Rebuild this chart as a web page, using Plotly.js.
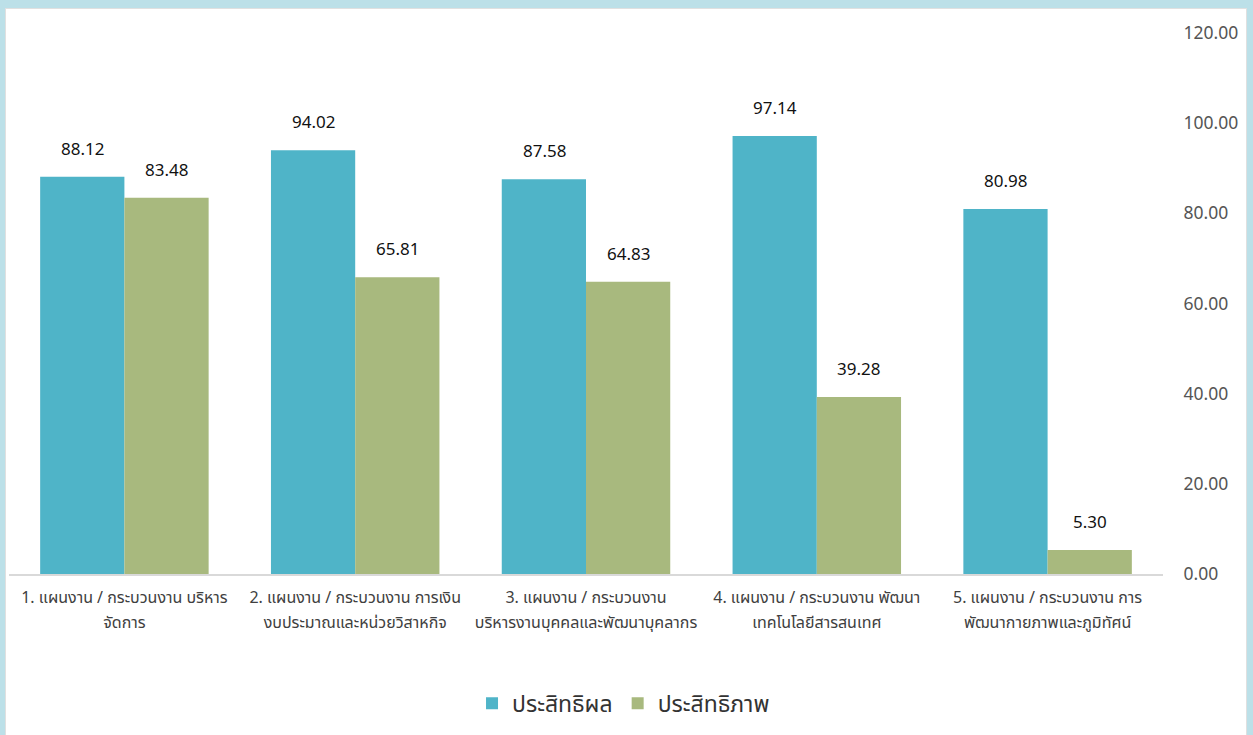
<!DOCTYPE html>
<html>
<head>
<meta charset="utf-8">
<script src="https://cdn.plot.ly/plotly-3.0.1.min.js"></script>
<style>
  html, body { margin:0; padding:0; width:1253px; height:735px; background:#BCE0E8; overflow:hidden; }
  #frame { position:absolute; left:5px; top:8px; width:1240px; height:727px; background:#fff; border:1px solid #e0e0e0; border-bottom:none; }
  #chart { position:absolute; left:0; top:0; width:1240px; height:727px; }
</style>
</head>
<body>
<div id="frame"><div id="chart"></div></div>
<script>
const categories = [
  "1. แผนงาน / กระบวนงาน บริหาร<br>จัดการ",
  "2. แผนงาน / กระบวนงาน การเงิน<br>งบประมาณและหน่วยวิสาหกิจ",
  "3. แผนงาน / กระบวนงาน<br>บริหารงานบุคคลและพัฒนาบุคลากร",
  "4. แผนงาน / กระบวนงาน พัฒนา<br>เทคโนโลยีสารสนเทศ",
  "5. แผนงาน / กระบวนงาน การ<br>พัฒนากายภาพและภูมิทัศน์"
];
const seriesNames = ["ประสิทธิผล", "ประสิทธิภาพ"];
const effectiveness = [88.12, 94.02, 87.58, 97.14, 80.98];
const efficiency = [83.48, 65.81, 64.83, 39.28, 5.30];
const yTicks = [0, 20, 40, 60, 80, 100, 120];

const FONT = "'Noto Sans Thai', 'Noto Sans', 'DejaVu Sans', sans-serif";
const colors = ["#4FB4C8", "#A8B97E"];

const traces = [
  { type:"bar", name:seriesNames[0], x:categories, y:effectiveness, marker:{color:colors[0]}, hoverinfo:"none" },
  { type:"bar", name:seriesNames[1], x:categories, y:efficiency, marker:{color:colors[1]}, hoverinfo:"none" }
];

const annotations = [];
[effectiveness, efficiency].forEach((arr, si) => {
  arr.forEach((v, i) => {
    annotations.push({
      x: categories[i], y: v, xref:"x", yref:"y",
      text: v.toFixed(2), showarrow:false,
      xshift: si === 0 ? -42 : 42, yanchor:"bottom", yshift:12,
      font:{family:FONT, size:17, color:"#111"}
    });
  });
});

const layout = {
  width:1240, height:727,
  margin:{l:3, r:83, t:24, b:162},
  paper_bgcolor:"rgba(0,0,0,0)", plot_bgcolor:"rgba(0,0,0,0)",
  barmode:"group", bargap:0.27, bargroupgap:0,
  font:{family:FONT},
  xaxis:{
    type:"category", showgrid:false, zeroline:false,
    showline:true, linecolor:"#d9d9d9", linewidth:2,
    ticks:"outside", ticklen:8, tickcolor:"rgba(0,0,0,0)",
    tickfont:{family:FONT, size:16, color:"#404040"}
  },
  yaxis:{
    side:"right", range:[0,120], tickvals:yTicks, tickformat:".2f",
    showgrid:false, zeroline:false, showline:false,
    ticks:"outside", ticklen:16, tickcolor:"rgba(0,0,0,0)",
    tickfont:{family:FONT, size:17.5, color:"#555"}
  },
  showlegend:true,
  legend:{
    orientation:"h", xref:"container", yref:"container",
    x:0.498, xanchor:"center", y:0.045, yanchor:"middle",
    font:{family:FONT, size:23, color:"#333"},
    itemwidth:30, traceorder:"normal"
  },
  annotations: annotations
};

Plotly.newPlot("chart", traces, layout, {staticPlot:true, displayModeBar:false}).then(gd => {
  gd.querySelectorAll(".xtick text tspan.line").forEach((t, i) => {
    if (t.getAttribute("dy") && t.getAttribute("dy") !== "0em") t.setAttribute("dy", "1.55em");
  });
});
</script>
</body>
</html>
